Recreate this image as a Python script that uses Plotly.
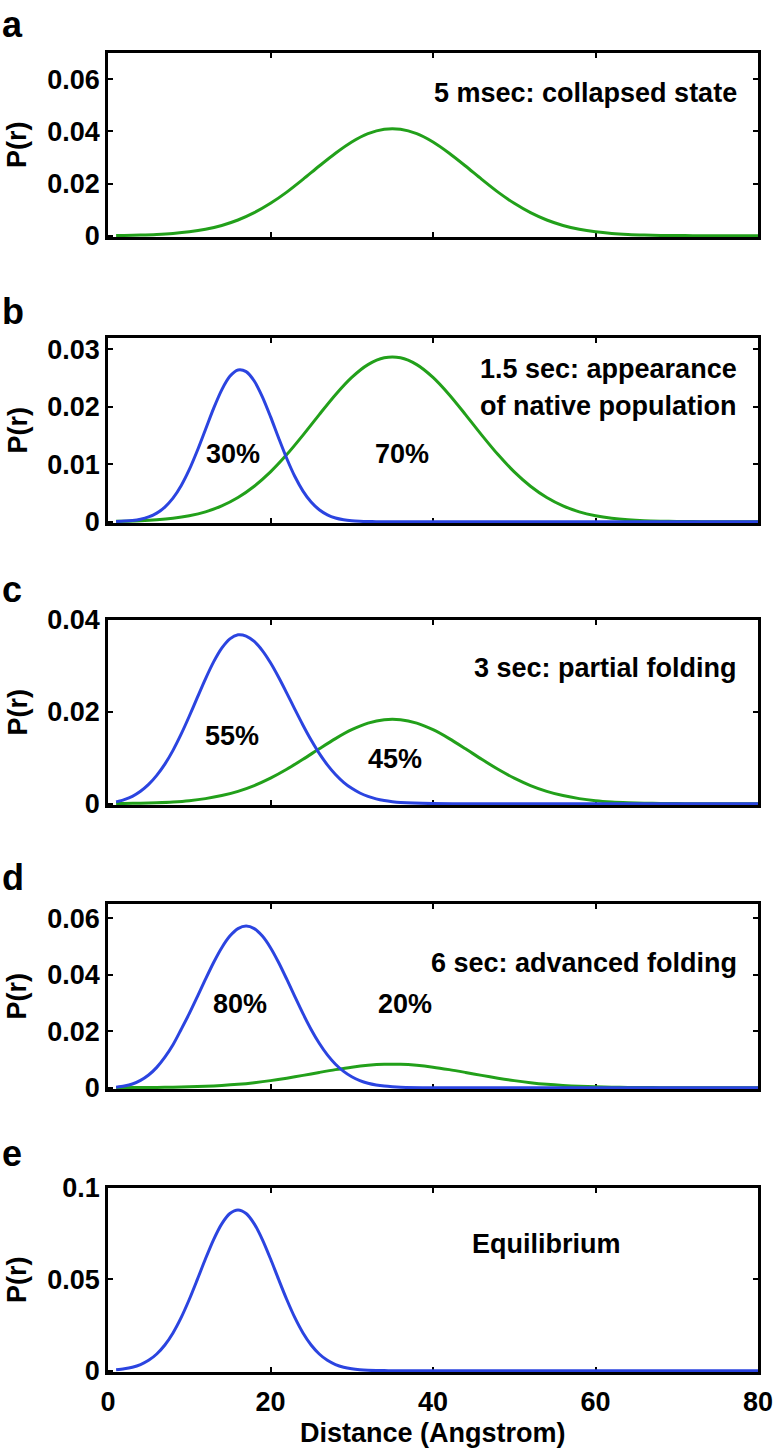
import plotly.graph_objects as go

# ---------------- data ----------------
# green (unfolded / collapsed) population, sampled every 2 Angstrom
distance = [1, 2, 4, 6, 8, 10, 12, 14, 16, 18, 20, 22, 24, 26, 28, 30, 32, 34, 36, 38,
            40, 42, 44, 46, 48, 50, 52, 54, 56, 58, 60, 62, 64, 66, 68, 70, 72, 74, 76, 78, 80]

green_a = [0.00009, 0.00013, 0.00025, 0.00047, 0.00085, 0.00148, 0.00246, 0.00394, 0.00602, 0.00883,
           0.0124, 0.0167, 0.0216, 0.0267, 0.0316, 0.0359, 0.0391, 0.0408, 0.0408, 0.0391,
           0.0359, 0.0316, 0.0267, 0.0216, 0.0167, 0.0124, 0.00883, 0.00602, 0.00394, 0.00246,
           0.00148, 0.00085, 0.00047, 0.00025, 0.00013, 0.00006, 0.00003, 0.00001, 0, 0, 0]
green_b = [0.00006, 0.00009, 0.00017, 0.00033, 0.0006, 0.00104, 0.00172, 0.00276, 0.00422, 0.00618,
           0.00868, 0.01169, 0.01509, 0.01866, 0.02212, 0.02513, 0.02736, 0.02855, 0.02855, 0.02736,
           0.02513, 0.02212, 0.01866, 0.01509, 0.01169, 0.00868, 0.00618, 0.00422, 0.00276, 0.00172,
           0.00104, 0.0006, 0.00033, 0.00017, 0.00009, 0.00004, 0.00002, 0.00001, 0, 0, 0]
green_c = [0.00004, 0.00006, 0.00011, 0.00021, 0.00038, 0.00066, 0.00111, 0.00177, 0.0027, 0.00396,
           0.00557, 0.0075, 0.00967, 0.01196, 0.01418, 0.01611, 0.01754, 0.0183, 0.0183, 0.01754,
           0.01611, 0.01418, 0.01196, 0.00967, 0.0075, 0.00557, 0.00396, 0.0027, 0.00177, 0.00111,
           0.00066, 0.00038, 0.00021, 0.00011, 0.00006, 0.00003, 0.00001, 0, 0, 0, 0]
green_d = [0.00002, 0.00003, 0.00005, 0.0001, 0.00017, 0.0003, 0.0005, 0.0008, 0.00122, 0.00179,
           0.00251, 0.00338, 0.00436, 0.0054, 0.0064, 0.00727, 0.00791, 0.00826, 0.00826, 0.00791,
           0.00727, 0.0064, 0.0054, 0.00436, 0.00338, 0.00251, 0.00179, 0.00122, 0.0008, 0.0005,
           0.0003, 0.00017, 0.0001, 0.00005, 0.00003, 0.00001, 0, 0, 0, 0, 0]

# blue (native) population, sampled every 1 Angstrom up to 36
blue_distance = [1, 2, 3, 4, 5, 6, 7, 8, 9, 10, 11, 12, 13, 14, 15, 16, 17, 18, 19, 20,
                 21, 22, 23, 24, 25, 26, 27, 28, 29, 30, 31, 32, 33, 34, 35, 36, 40, 50, 60, 70, 80]

blue_b = [0.00005, 0.00011, 0.00022, 0.00044, 0.00084, 0.0015, 0.00256, 0.00411, 0.00627, 0.00906,
          0.0124, 0.01607, 0.01974, 0.02297, 0.02532, 0.02644, 0.02615, 0.02451, 0.02176, 0.0183,
          0.01458, 0.01101, 0.00787, 0.00533, 0.00342, 0.00208, 0.0012, 0.00065, 0.00034, 0.00017,
          0.00008, 0.00003, 0.00001, 0, 0, 0, 0, 0, 0, 0, 0]
blue_c = [0.0004, 0.0009, 0.0016, 0.0027, 0.0042, 0.00618, 0.00862, 0.01162, 0.01513, 0.01904,
          0.02315, 0.0272, 0.03088, 0.03387, 0.0359, 0.03677, 0.0365, 0.03533, 0.03334, 0.03068,
          0.02753, 0.02409, 0.02055, 0.0171, 0.01387, 0.01097, 0.00847, 0.00637, 0.00467, 0.00334,
          0.00233, 0.00159, 0.00105, 0.00068, 0.00043, 0.00026, 0.00003, 0, 0, 0, 0]
blue_d = [0.0002, 0.0006, 0.0013, 0.0026, 0.0045, 0.0072, 0.0108, 0.0152, 0.02061, 0.02619,
          0.03222, 0.0384, 0.04432, 0.04955, 0.05366, 0.0563, 0.0572, 0.0563, 0.05366, 0.04955,
          0.04432, 0.0384, 0.03222, 0.02619, 0.02061, 0.01572, 0.01161, 0.00831, 0.00576, 0.00387,
          0.00251, 0.00158, 0.00097, 0.00057, 0.00033, 0.00018, 0.00001, 0, 0, 0, 0]
blue_e = [0.00054, 0.00104, 0.00192, 0.00338, 0.00569, 0.00915, 0.01407, 0.02067, 0.02903, 0.03896,
          0.04997, 0.06126, 0.07178, 0.08038, 0.08603, 0.088, 0.08603, 0.08038, 0.07178, 0.06126,
          0.04997, 0.03896, 0.02903, 0.02067, 0.01407, 0.00915, 0.00569, 0.00338, 0.00192, 0.00104,
          0.00054, 0.00027, 0.00013, 0.00006, 0.00002, 0.00001, 0, 0, 0, 0, 0]

panel_letters = ["a", "b", "c", "d", "e"]
y_max = [0.07, 0.032, 0.04, 0.065, 0.1]
y_ticks = [[0, 0.02, 0.04, 0.06], [0, 0.01, 0.02, 0.03], [0, 0.02, 0.04],
           [0, 0.02, 0.04, 0.06], [0, 0.05, 0.1]]
y_ticktext = [["0", "0.02", "0.04", "0.06"], ["0", "0.01", "0.02", "0.03"], ["0", "0.02", "0.04"],
              ["0", "0.02", "0.04", "0.06"], ["0", "0.05", "0.1"]]
x_ticks = [0, 20, 40, 60, 80]
x_ticktext = ["0", "20", "40", "60", "80"]

panels = [(green_a, None), (green_b, blue_b), (green_c, blue_c), (green_d, blue_d), (None, blue_e)]

# text labels: (panel, x, y, text, anchor)
state_labels = [
    (0, 77.6, 0.0548, "5 msec: collapsed state", "right"),
    (1, 77.6, 0.0266, "1.5 sec: appearance", "right"),
    (1, 77.6, 0.0202, "of native population", "right"),
    (2, 77.6, 0.0296, "3 sec: partial folding", "right"),
    (3, 77.6, 0.0442, "6 sec: advanced folding", "right"),
    (4, 54.0, 0.0696, "Equilibrium", "center"),
]
pct_labels = [
    (1, 15.4, 0.0118, "30%"), (1, 36.2, 0.0118, "70%"),
    (2, 15.3, 0.0147, "55%"), (2, 35.3, 0.0097, "45%"),
    (3, 16.2, 0.0295, "80%"), (3, 36.6, 0.0295, "20%"),
]

# ---------------- layout geometry (page pixels) ----------------
W, H = 776, 1451
AX_LEFT, AX_RIGHT = 108, 758
AX_TOP = [53, 338, 620, 904, 1188]
AX_BOT = [237, 523, 805, 1089, 1372]
LETTER_Y = [24.5, 311, 589.5, 877, 1153]
YTITLE_X = 17

BLUE = "#2b44e0"
GREEN = "#22a01a"
FONT = "Liberation Sans"
FS = 27


def px_x(p):
    return p / W


def px_y(p):
    return 1 - p / H


fig = go.Figure()
layout = dict(width=W, height=H, margin=dict(l=0, r=0, t=0, b=0, autoexpand=False),
              paper_bgcolor="white", plot_bgcolor="white", showlegend=False)
annotations = []
tfont = dict(family=FONT, size=FS, color="black", weight="bold")

for i, (green, blue) in enumerate(panels):
    xa = "x" if i == 0 else f"x{i+1}"
    ya = "y" if i == 0 else f"y{i+1}"
    if green is not None:
        fig.add_trace(go.Scatter(x=distance, y=green, mode="lines", xaxis=xa, yaxis=ya,
                                 line=dict(color=GREEN, width=3, shape="spline", smoothing=0.8)))
    if blue is not None:
        fig.add_trace(go.Scatter(x=blue_distance, y=blue, mode="lines", xaxis=xa, yaxis=ya,
                                 line=dict(color=BLUE, width=3, shape="spline", smoothing=0.8)))
    common = dict(showline=True, linewidth=2.5, linecolor="black", mirror="ticks",
                  ticks="inside", ticklen=5, tickwidth=2, tickcolor="black",
                  showgrid=False, zeroline=False, layer="below traces",
                  tickfont=tfont, automargin=False)
    layout["xaxis" if i == 0 else f"xaxis{i+1}"] = dict(
        domain=[px_x(AX_LEFT), px_x(AX_RIGHT)], range=[0, 80], anchor=ya,
        tickvals=x_ticks, ticktext=x_ticktext, showticklabels=(i == 4),
        ticklabelstandoff=4, **common)
    ymax = y_max[i]
    layout["yaxis" if i == 0 else f"yaxis{i+1}"] = dict(
        domain=[px_y(AX_BOT[i]), px_y(AX_TOP[i])], range=[-0.007 * ymax, ymax], anchor=xa,
        tickvals=y_ticks[i], ticktext=y_ticktext[i], **common)
    annotations.append(dict(xref="paper", yref="paper", x=0, y=px_y(LETTER_Y[i]),
                            xanchor="left", yanchor="middle", showarrow=False,
                            text=panel_letters[i],
                            font=dict(family=FONT, size=36, color="black", weight="bold")))
    annotations.append(dict(xref="paper", yref="paper", x=px_x(YTITLE_X),
                            y=px_y((AX_TOP[i] + AX_BOT[i]) / 2), xanchor="center",
                            yanchor="middle", textangle=-90, showarrow=False,
                            text="P(r)", font=tfont))

for (p, x, y, t, anc) in state_labels + [(a, b, c, d, "center") for (a, b, c, d) in pct_labels]:
    xa = "x" if p == 0 else f"x{p+1}"
    ya = "y" if p == 0 else f"y{p+1}"
    annotations.append(dict(xref=xa, yref=ya, x=x, y=y, text=t, xanchor=anc,
                            yanchor="middle", showarrow=False, font=tfont))

annotations.append(dict(xref="paper", yref="paper", x=px_x((AX_LEFT + AX_RIGHT) / 2),
                        y=px_y(1433), xanchor="center", yanchor="middle", showarrow=False,
                        text="Distance (Angstrom)", font=tfont))

layout["annotations"] = annotations
fig.update_layout(**layout)
# remove the browser's default 8px page margin so the figure sits at the page origin
fig.write_html("out.html",
               config={"displayModeBar": False},
               post_script="document.body.style.margin='0';document.body.style.overflow='hidden';")
